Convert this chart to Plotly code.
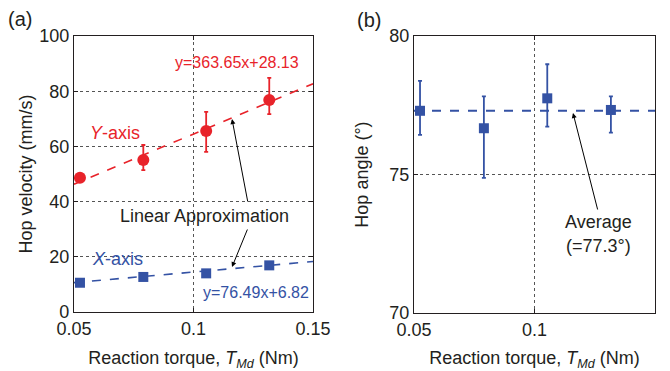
import plotly.graph_objects as go

# ---- data ----
torque = [0.0525, 0.079, 0.1053, 0.1317]

vel_y = [48.6, 55.1, 65.6, 76.8]
vel_y_err_plus = [1.0, 5.4, 6.9, 8.0]
vel_y_err_minus = [1.0, 3.7, 7.6, 5.1]

vel_x = [10.6, 12.7, 14.0, 16.9]
vel_x_err = [0.8, 0.8, 0.8, 0.8]

angle = [77.30, 76.67, 77.75, 77.33]
angle_err_plus = [1.08, 1.15, 1.23, 0.49]
angle_err_minus = [0.87, 1.79, 1.02, 0.82]

fit_x = [0.05, 0.15]
fit_y_slope, fit_y_icpt = 363.65, 28.13
fit_x_slope, fit_x_icpt = 76.49, 6.82
avg_angle = 77.3

RED = "#e8232a"
BLUE = "#3452a4"
TXT = "#231f20"
FONT = "Liberation Sans, Arial, sans-serif"

W, H = 670, 371
def px(x):
    return x / W
def py(y):
    return 1 - y / H

fig = go.Figure()

# panel (a)
fig.add_trace(go.Scatter(x=fit_x, y=[fit_y_slope * v + fit_y_icpt for v in fit_x],
                         mode="lines", line=dict(color=RED, width=1.6, dash="dash"),
                         xaxis="x", yaxis="y", showlegend=False, hoverinfo="skip"))
fig.add_trace(go.Scatter(x=fit_x, y=[fit_x_slope * v + fit_x_icpt for v in fit_x],
                         mode="lines", line=dict(color=BLUE, width=1.6, dash="dash"),
                         xaxis="x", yaxis="y", showlegend=False, hoverinfo="skip"))
fig.add_trace(go.Scatter(x=torque, y=vel_y, mode="markers",
                         marker=dict(color=RED, size=12, symbol="circle"),
                         error_y=dict(type="data", array=vel_y_err_plus, arrayminus=vel_y_err_minus,
                                      color=RED, thickness=1.8, width=2),
                         xaxis="x", yaxis="y", showlegend=False))
fig.add_trace(go.Scatter(x=torque, y=vel_x, mode="markers",
                         marker=dict(color=BLUE, size=10, symbol="square"),
                         error_y=dict(type="data", array=vel_x_err, color=BLUE, thickness=1.8, width=2),
                         xaxis="x", yaxis="y", showlegend=False))

# panel (b)
fig.add_trace(go.Scatter(x=fit_x, y=[avg_angle, avg_angle], mode="lines",
                         line=dict(color=BLUE, width=2, dash="dash"),
                         xaxis="x2", yaxis="y2", showlegend=False, hoverinfo="skip"))
fig.add_trace(go.Scatter(x=torque, y=angle, mode="markers",
                         marker=dict(color=BLUE, size=10, symbol="square"),
                         error_y=dict(type="data", array=angle_err_plus, arrayminus=angle_err_minus,
                                      color=BLUE, thickness=1.8, width=2),
                         xaxis="x2", yaxis="y2", showlegend=False))

axis_common = dict(showline=True, linecolor=TXT, linewidth=1.2, mirror="ticks",
                   ticks="inside", ticklen=4, tickcolor=TXT, tickwidth=1,
                   showgrid=True, gridcolor="#555555", griddash="dot", gridwidth=1,
                   zeroline=False, automargin=False,
                   tickfont=dict(family=FONT, size=18, color=TXT))

xtitle = "Reaction torque, <i>T</i><sub><i>Md</i></sub> (Nm)"
tfont = dict(family=FONT, size=18, color=TXT)

fig.update_layout(
    width=W, height=H, margin=dict(l=0, r=0, t=0, b=0, autoexpand=False),
    paper_bgcolor="white", plot_bgcolor="white",
    font=dict(family=FONT, color=TXT),
    xaxis=dict(domain=[px(74), px(313)], range=[0.05, 0.15], tickvals=[0.05, 0.1, 0.15],
               ticktext=["0.05", "0.1", "0.15"], anchor="y",
               title=dict(text=xtitle, font=tfont, standoff=14), **axis_common),
    yaxis=dict(domain=[py(312), py(36)], range=[0, 100], tickvals=[0, 20, 40, 60, 80, 100],
               anchor="x", title=dict(text="Hop velocity (mm/s)", font=tfont, standoff=1),
               **axis_common),
    xaxis2=dict(domain=[px(414), px(655)], range=[0.05, 0.15], tickvals=[0.05, 0.1, 0.15],
                ticktext=["0.05", "0.1", "0.15"], anchor="y2",
                title=dict(text=xtitle, font=tfont, standoff=14), **axis_common),
    yaxis2=dict(domain=[py(313), py(36)], range=[70, 80], tickvals=[70, 75, 80],
                anchor="x2", title=dict(text="Hop angle (°)", font=tfont, standoff=15),
                **axis_common),
)

ann = []
def text(x, y, t, size=18, color=TXT, xanchor="center"):
    ann.append(dict(x=px(x), y=py(y), xref="paper", yref="paper", text=t, showarrow=False,
                    font=dict(family=FONT, size=size, color=color), xanchor=xanchor, yanchor="middle"))

text(20, 19, "(a)", 20)
text(369, 20, "(b)", 20)
text(237, 62, "y=363.65x+28.13", 16, RED)
text(115, 133, "<i>Y</i>-axis", 18, RED)
text(204, 216, "Linear Approximation", 18)
text(117, 259, "<i>X</i>-axis", 18, BLUE)
text(256, 292, "y=76.49x+6.82", 16, BLUE)
text(598, 222, "Average", 18)
text(598, 246, "(=77.3°)", 18)

def arrow(x0, y0, x1, y1):
    ann.append(dict(x=px(x1), y=py(y1), ax=x0 - x1, ay=y0 - y1, xref="paper", yref="paper",
                    axref="pixel", ayref="pixel", text="", showarrow=True,
                    arrowhead=2, arrowsize=1, arrowwidth=1, arrowcolor="#000000"))

arrow(248, 203, 232, 119)
arrow(248, 228, 232, 267)
arrow(598, 211, 573, 113)

fig.update_layout(annotations=ann)
fig.write_html("out.html")
